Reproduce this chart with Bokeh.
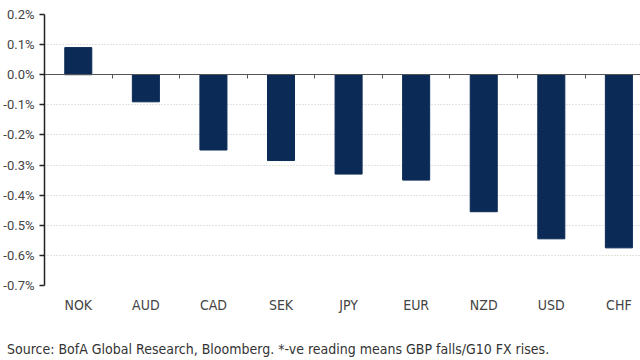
from bokeh.plotting import figure
from bokeh.models import Range1d, FixedTicker, LinearAxis, Div, PrintfTickFormatter
from bokeh.layouts import column
from bokeh.embed import file_html
from bokeh.resources import INLINE

categories = ["NOK", "AUD", "CAD", "SEK", "JPY", "EUR", "NZD", "USD", "CHF"]
values = [0.09, -0.09, -0.25, -0.285, -0.33, -0.35, -0.455, -0.545, -0.575]
y_ticks = [0.2, 0.1, 0.0, -0.1, -0.2, -0.3, -0.4, -0.5, -0.6, -0.7]
source_note = "Source: BofA Global Research, Bloomberg. *-ve reading means GBP falls/G10 FX rises."

pos = list(range(len(categories)))
boundaries = [i + 0.5 for i in pos[:-1]]

BAR = "#0B2A55"
TICK_FONT = "Roboto"
LABEL_FONT = "'DejaVu Sans Condensed', Roboto, sans-serif"

p = figure(width=640, height=336, output_backend="svg", toolbar_location=None,
           x_range=Range1d(-0.5, len(categories) - 0.68),
           y_range=Range1d(min(y_ticks), max(y_ticks)),
           min_border_top=14, min_border_right=0, min_border_left=0, min_border_bottom=51)
p.outline_line_color = None
p.background_fill_color = "white"

p.vbar(x=pos, top=values, bottom=0, width=0.4, fill_color=BAR, line_color=BAR)

# y axis
ya = p.yaxis[0]
ya.ticker = FixedTicker(ticks=y_ticks)
ya.formatter = PrintfTickFormatter(format="%.1f%%")
ya.major_label_text_font = TICK_FONT
ya.major_label_text_font_size = "13px"
ya.major_label_text_color = "#444444"
ya.axis_line_color = "#222222"
ya.axis_line_width = 1.5
ya.major_tick_line_color = "#222222"
ya.major_tick_line_width = 1.5
ya.major_tick_in = 0
ya.major_tick_out = 5
ya.minor_tick_line_color = None
ya.major_label_standoff = 5

p.ygrid.ticker = FixedTicker(ticks=y_ticks)
p.ygrid.grid_line_color = "#c4c4c4"
p.ygrid.grid_line_dash = "1 2"
p.xgrid.grid_line_color = None

# x axis labels (bottom)
xa = p.xaxis[0]
xa.ticker = FixedTicker(ticks=pos)
xa.major_label_overrides = {i: c for i, c in zip(pos, categories)}
xa.axis_line_color = None
xa.major_tick_line_color = None
xa.minor_tick_line_color = None
xa.major_tick_out = 0
xa.major_label_text_font = LABEL_FONT
xa.major_label_text_font_size = "14px"
xa.major_label_text_color = "#444444"
xa.major_label_standoff = 11

# zero line with boundary ticks
za = LinearAxis(fixed_location=0, ticker=FixedTicker(ticks=boundaries))
za.major_label_overrides = {b: "" for b in boundaries}
za.major_label_text_font_size = "1px"
za.major_label_standoff = 0
za.axis_line_color = "#555555"
za.axis_line_width = 1
za.major_tick_line_color = "#555555"
za.major_tick_in = 4
za.major_tick_out = 0
za.minor_tick_line_color = None
p.add_layout(za, "above")

note = Div(text=source_note, width=640, height=24,
           styles={"font-family": "'DejaVu Sans Condensed', Roboto, sans-serif",
                   "font-size": "14px", "color": "#333333", "line-height": "16px",
                   "padding-left": "2px", "white-space": "nowrap"})

layout = column(p, note, spacing=0)
open("out.html", "w").write(file_html(layout, INLINE))
